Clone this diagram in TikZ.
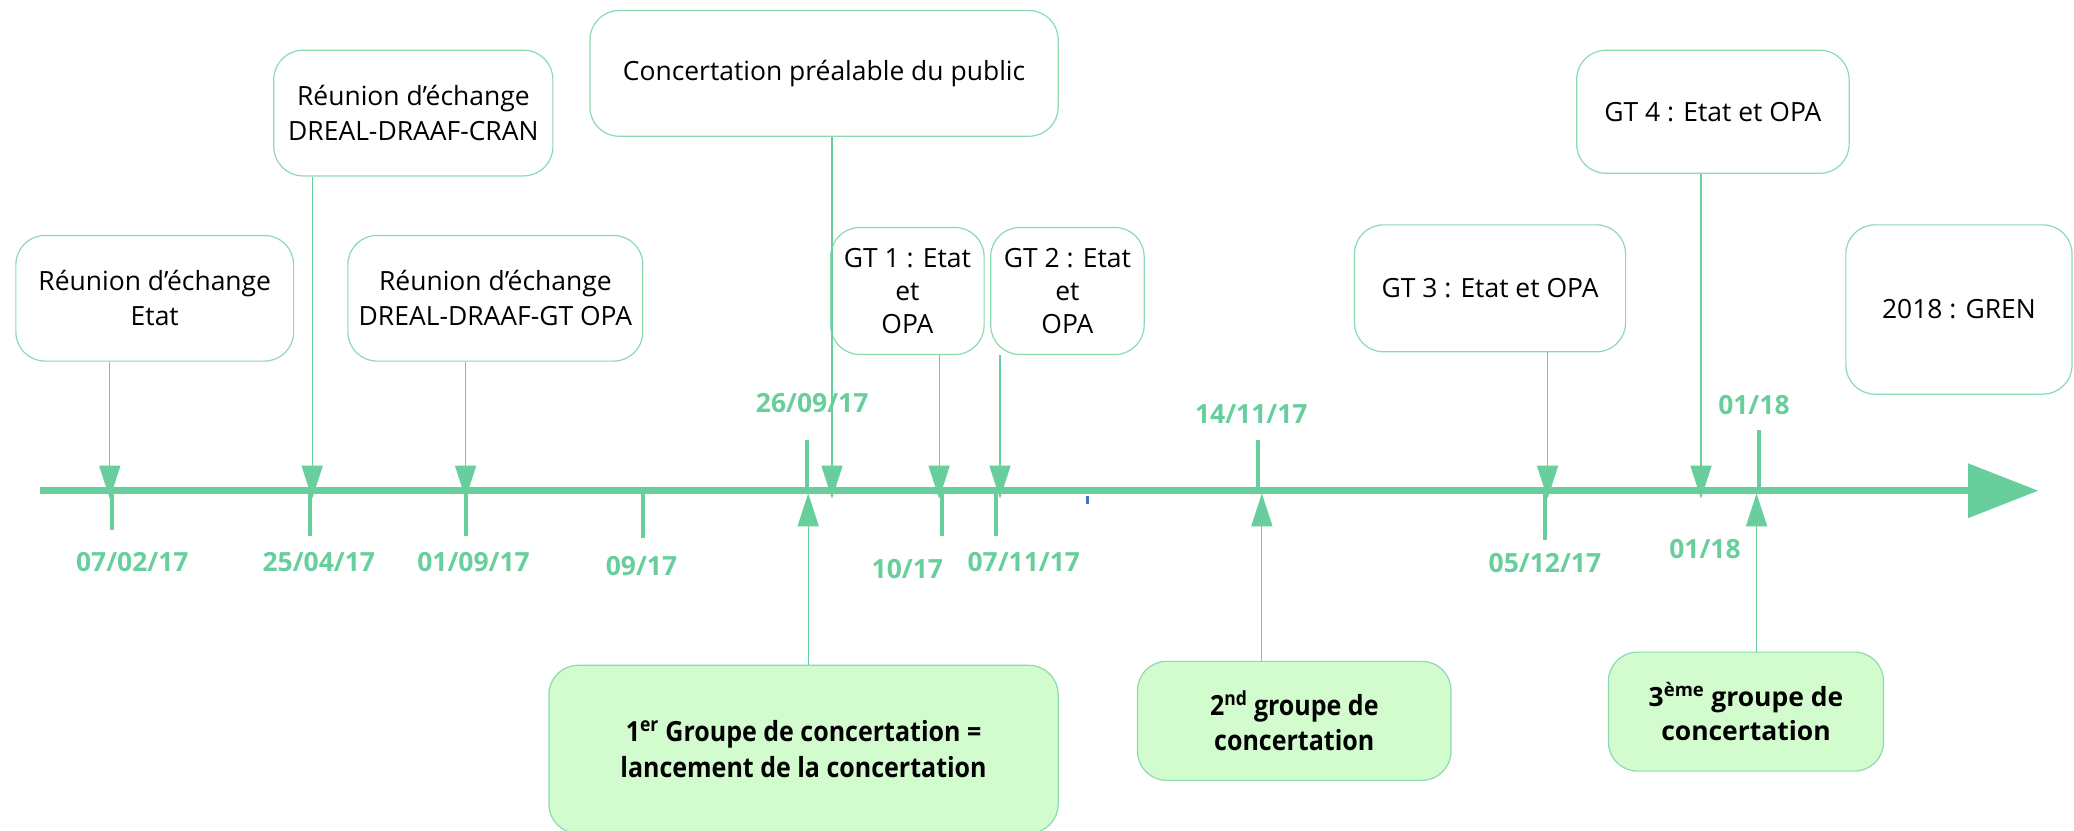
\documentclass[tikz,border=0pt]{standalone}
\usepackage{fontspec}
\setmainfont{Open Sans}
\newfontfamily\condfont[FakeStretch=0.9]{Open Sans}
\usetikzlibrary{arrows.meta}
\definecolor{tlgreen}{RGB}{104,206,156}
\definecolor{bordergreen}{RGB}{140,218,175}
\definecolor{fillgreen}{RGB}{211,252,206}
\definecolor{markblue}{RGB}{68,114,196}
\tikzset{
  whitebox/.style={draw=bordergreen, line width=0.9pt, rounded corners=22pt, fill=white,
    align=center, inner sep=0pt, font=\fontsize{20}{26.5}\selectfont},
  greenbox/.style={draw=bordergreen, line width=0.9pt, rounded corners=22pt, fill=fillgreen,
    align=center, inner sep=0pt, font=\fontsize{20}{27}\selectfont\bfseries},
  conn/.style={draw=tlgreen, line width=0.9pt, -{Triangle[length=25pt,width=16pt]}},
  tick/.style={draw=tlgreen, line width=3pt},
  datelbl/.style={text=tlgreen, font=\fontsize{20}{23}\selectfont\bfseries, inner sep=0pt},
  axisline/.style={draw=tlgreen, line width=5pt, -{Triangle[length=53pt,width=40pt]}}
}
\begin{document}
\begin{tikzpicture}[x=1pt,y=-1pt]
\useasboundingbox (0,0) rectangle (1568,628);
% axis
\coordinate (axs) at (30,371);
\coordinate (axe) at (1541,371);
\draw[axisline] (axs) -- (axe);
% small blue mark
\fill[markblue] (821,375) rectangle (823.5,381);
% boxes
\node[whitebox, minimum width=210pt, minimum height=95pt] (b1) at (117,225.5) {Réunion d’échange\\Etat};
\node[whitebox, minimum width=211pt, minimum height=95pt] (b2) at (312.5,85.5) {Réunion d’échange\\DREAL-DRAAF-CRAN};
\node[whitebox, minimum width=223pt, minimum height=95pt] (b3) at (374.5,225.5) {Réunion d’échange\\DREAL-DRAAF-GT OPA};
\node[whitebox, minimum width=354pt, minimum height=95pt] (b4) at (623,55.5) {Concertation préalable du public};
\node[whitebox, minimum width=116pt, minimum height=96pt, font=\fontsize{20}{25}\selectfont] (b5) at (686,220) {GT 1 : Etat\\et\\OPA};
\node[whitebox, minimum width=116pt, minimum height=96pt, font=\fontsize{20}{25}\selectfont] (b6) at (807,220) {GT 2 : Etat\\et\\OPA};
\node[whitebox, minimum width=205pt, minimum height=96pt] (b7) at (1126.5,218) {GT 3 : Etat et OPA};
\node[whitebox, minimum width=206pt, minimum height=93pt] (b8) at (1295,84.5) {GT 4 : Etat et OPA};
\node[whitebox, minimum width=171pt, minimum height=128pt] (b9) at (1481,234) {2018 : GREN};
\node[greenbox, minimum width=385pt, minimum height=127pt, font=\fontsize{21}{27}\selectfont\condfont\bfseries] (g1) at (607.5,566.5) {1\textsuperscript{er} Groupe de concertation =\\lancement de la concertation};
\node[greenbox, minimum width=237pt, minimum height=90pt, font=\fontsize{21}{27}\selectfont\condfont\bfseries] (g2) at (978.5,545) {2\textsuperscript{nd} groupe de\\concertation};
\node[greenbox, minimum width=208pt, minimum height=90pt, font=\fontsize{20}{26}\selectfont\bfseries] (g3) at (1320,538) {3\textsuperscript{ème} groupe de\\concertation};
% arrow end points on axis
\coordinate (a1) at (83,377);
\coordinate (a2) at (236,377);
\coordinate (a3) at (352,377);
\coordinate (a4) at (629,377);
\coordinate (a5) at (710,377);
\coordinate (a6) at (756,377);
\coordinate (a7) at (1170,377);
\coordinate (a8) at (1286,377);
\coordinate (u1) at (611,373);
\coordinate (u2) at (954,373);
\coordinate (u3) at (1328,373);
\draw[conn] (b1.south -| a1) -- (a1);
\draw[conn] (b2.south -| a2) -- (a2);
\draw[conn] (b3.south -| a3) -- (a3);
\draw[conn] (b4.south -| a4) -- (a4);
\draw[conn] (b5.south -| a5) -- (a5);
\draw[conn] (b6.south -| a6) -- (a6);
\draw[conn] (b7.south -| a7) -- (a7);
\draw[conn] (b8.south -| a8) -- (a8);
\draw[conn] (g1.north -| u1) -- (u1);
\draw[conn] (g2.north -| u2) -- (u2);
\draw[conn] (g3.north -| u3) -- (u3);
% ticks
\coordinate (t1a) at (85,371);   \coordinate (t1b) at (85,401);
\coordinate (t2a) at (234,371);  \coordinate (t2b) at (234,405);
\coordinate (t3a) at (352,371);  \coordinate (t3b) at (352,405);
\coordinate (t4a) at (486,371);  \coordinate (t4b) at (486,407);
\coordinate (t5a) at (610,333);  \coordinate (t5b) at (610,369);
\coordinate (t6a) at (712,371);  \coordinate (t6b) at (712,405);
\coordinate (t7a) at (753,371);  \coordinate (t7b) at (753,405);
\coordinate (t8a) at (951,333);  \coordinate (t8b) at (951,369);
\coordinate (t9a) at (1168,371); \coordinate (t9b) at (1168,408);
\coordinate (t10a) at (1330,325); \coordinate (t10b) at (1330,369);
\foreach \t in {1,...,10} {\draw[tick] (t\t a) -- (t\t b);}
% date labels
\node[datelbl] (d1) at (100,425) {07/02/17};
\node[datelbl] (d2) at (241,425) {25/04/17};
\node[datelbl] (d3) at (358,425) {01/09/17};
\node[datelbl] (d4) at (485,428) {09/17};
\node[datelbl] (d5) at (614,305) {26/09/17};
\node[datelbl] (d6) at (686,430) {10/17};
\node[datelbl] (d7) at (774,425) {07/11/17};
\node[datelbl] (d8) at (946,313) {14/11/17};
\node[datelbl] (d9) at (1168,426) {05/12/17};
\node[datelbl] (d10) at (1326,306) {01/18};
\node[datelbl] (d11) at (1289,415) {01/18};
\end{tikzpicture}
\end{document}
